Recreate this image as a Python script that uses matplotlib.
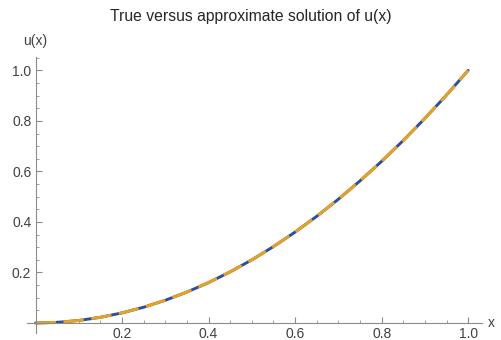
import matplotlib.pyplot as plt
from matplotlib.ticker import MultipleLocator

x_vals = [0.00, 0.05, 0.10, 0.15, 0.20, 0.25, 0.30, 0.35, 0.40, 0.45, 0.50,
          0.55, 0.60, 0.65, 0.70, 0.75, 0.80, 0.85, 0.90, 0.95, 1.00]
u_true = [0.000, 0.0025, 0.010, 0.0225, 0.040, 0.0625, 0.090, 0.1225, 0.160,
          0.2025, 0.250, 0.3025, 0.360, 0.4225, 0.490, 0.5625, 0.640, 0.7225,
          0.810, 0.9025, 1.000]
u_approx = [0.000, 0.0025, 0.010, 0.0225, 0.040, 0.0625, 0.090, 0.1225, 0.160,
            0.2025, 0.250, 0.3025, 0.360, 0.4225, 0.490, 0.5625, 0.640, 0.7225,
            0.810, 0.9025, 1.000]

blue = '#2a4f9e'
orange = '#e9a21f'
axis_grey = '0.55'
text_grey = '0.25'

plt.rcParams['font.family'] = ['Liberation Sans', 'DejaVu Sans']

fig = plt.figure(figsize=(5.02, 3.40), dpi=100)
ax = fig.add_axes([27 / 502, 7 / 340, 455 / 502, 276 / 340])

ax.plot(x_vals, u_true, color=blue, linewidth=2.1, solid_capstyle='round')
ax.plot(x_vals, u_approx, color=orange, linewidth=2.1, dashes=(7, 2.6))

ax.set_xlim(-0.0197, 1.032)
ax.set_ylim(-0.0396, 1.053)

for side in ['top', 'right']:
    ax.spines[side].set_visible(False)
for side in ['left', 'bottom']:
    ax.spines[side].set_position(('data', 0))
    ax.spines[side].set_color(axis_grey)
    ax.spines[side].set_linewidth(0.8)

ax.xaxis.set_minor_locator(MultipleLocator(0.05))
ax.yaxis.set_minor_locator(MultipleLocator(0.05))
ax.set_xticks([0.2, 0.4, 0.6, 0.8, 1.0])
ax.set_yticks([0.2, 0.4, 0.6, 0.8, 1.0])
ax.set_xticklabels(['0.2', '0.4', '0.6', '0.8', '1.0'])
ax.set_yticklabels(['0.2', '0.4', '0.6', '0.8', '1.0'])

ax.tick_params(which='major', direction='in', length=4, width=0.8,
               color=axis_grey, labelcolor=text_grey, labelsize=10, pad=3)
ax.tick_params(which='minor', direction='in', length=2.2, width=0.6,
               color=axis_grey)

ax.text(1.045, 0, 'x', ha='left', va='center', fontsize=10,
        color=text_grey, clip_on=False)
ax.text(0, 1.09, 'u(x)', ha='center', va='bottom', fontsize=10,
        color=text_grey, clip_on=False)
fig.text(0.5, 0.95, 'True versus approximate solution of u(x)',
         ha='center', va='center', fontsize=11.3, color='0.15')

fig.savefig('out.png', dpi=100)
